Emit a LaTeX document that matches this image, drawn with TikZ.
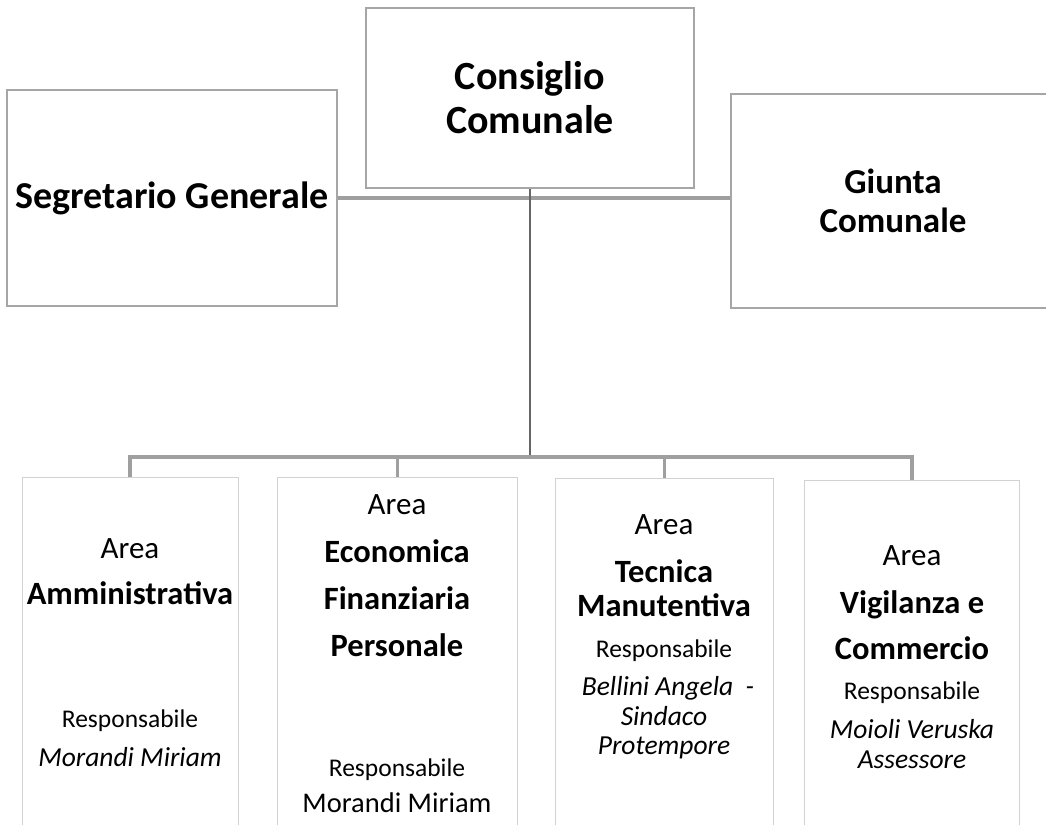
\documentclass[tikz,border=0pt]{standalone}
\usepackage{fontspec}
\setmainfont{Carlito}
\usetikzlibrary{positioning}

\tikzset{
  topbox/.style={draw=gray!70,line width=1.2pt,align=center,font=\bfseries},
  areabox/.style={draw=gray!35,line width=1pt,minimum width=#1,minimum height=400pt},
  link/.style={draw=gray!75,line width=4pt},
  stem/.style={draw=gray!80!black,line width=2pt},
  drop/.style={draw=gray!75,line width=3pt},
  lab/.style={anchor=base,inner sep=0pt,font=\fontsize{31}{36}\selectfont},
  ttl/.style={anchor=base,inner sep=0pt,font=\fontsize{32.5}{38}\selectfont\bfseries},
  resp/.style={anchor=base,inner sep=0pt,font=\fontsize{25.5}{30}\selectfont},
  nome/.style={anchor=base,inner sep=0pt,font=\fontsize{27.5}{32}\selectfont\itshape}
}

\begin{document}
\begin{tikzpicture}[x=1pt,y=-1pt]
\useasboundingbox[fill=white] (0,0) rectangle (1046,824);

% vertici
\node[topbox,minimum width=328pt,minimum height=180pt,font=\fontsize{40}{44}\selectfont\bfseries] (cons) at (530,98) {Consiglio\\Comunale};
\node[topbox,minimum width=330pt,minimum height=216pt,font=\fontsize{38}{42}\selectfont\bfseries] (seg) at (172,198) {Segretario Generale};
\node[topbox,minimum width=324pt,minimum height=214pt,font=\fontsize{35}{39}\selectfont\bfseries] (giu) at (893,201) {Giunta\\Comunale};

% aree
\node[areabox=216pt,anchor=north] (amm) at (130,477) {};
\node[areabox=240pt,anchor=north] (eco) at (397,477) {};
\node[areabox=218pt,anchor=north] (tec) at (664,478) {};
\node[areabox=215pt,anchor=north] (vig) at (912,480) {};

% collegamenti
\coordinate (bus) at (530,457);
\draw[link] (seg.east) -- (seg.east -| giu.west);
\draw[stem] (cons.south) -- (bus);
\draw[link] (amm.north) |- (bus) -| (vig.north);
\draw[drop] (eco.north) -- (eco.north |- bus);
\draw[drop] (tec.north) -- (tec.north |- bus);

% testi area amministrativa
\node[lab]  (amm1) at (130,558) {Area};
\node[ttl]  (amm2) at (130,604) {Amministrativa};
\node[resp] (amm3) at (130,727) {Responsabile};
\node[nome] (amm4) at (130,766) {Morandi Miriam};

% testi area economica
\node[lab]  (eco1) at (397,514) {Area};
\node[ttl]  (eco2) at (397,562) {Economica};
\node[ttl]  (eco3) at (397,609) {Finanziaria};
\node[ttl]  (eco4) at (397,656) {Personale};
\node[resp] (eco5) at (397,776) {Responsabile};
\node[lab,font=\fontsize{28.5}{32}\selectfont] (eco6) at (397,812) {Morandi Miriam};

% testi area tecnica
\node[lab]  (tec1) at (664,534) {Area};
\node[ttl]  (tec2) at (664,582) {Tecnica};
\node[ttl]  (tec3) at (664,616) {Manutentiva};
\node[resp] (tec4) at (664,657) {Responsabile};
\node[nome] (tec5) at (668,695) {Bellini Angela\ \ -};
\node[nome] (tec6) at (664,725) {Sindaco};
\node[nome] (tec7) at (664,754) {Protempore};

% testi area vigilanza
\node[lab]  (vig1) at (912,565) {Area};
\node[ttl]  (vig2) at (912,613) {Vigilanza e};
\node[ttl]  (vig3) at (912,659) {Commercio};
\node[resp] (vig4) at (912,699) {Responsabile};
\node[nome] (vig5) at (912,738) {Moioli Veruska};
\node[nome] (vig6) at (912,768) {Assessore};
\end{tikzpicture}
\end{document}
